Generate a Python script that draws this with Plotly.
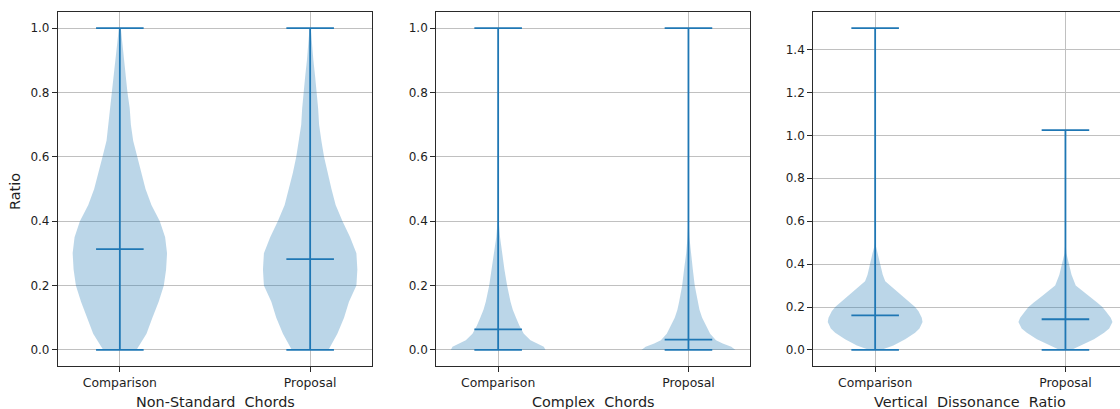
import plotly.graph_objects as go

# ---------------- data ----------------
panels = ["Non-Standard  Chords", "Complex  Chords", "Vertical  Dissonance  Ratio"]
categories = ["Comparison", "Proposal"]

# summary statistics: min, max, mean per violin
ns_min = [0.0, 0.0]
ns_max = [1.0, 1.0]
ns_mean = [0.313, 0.282]

cx_min = [0.0, 0.0]
cx_max = [1.0, 1.0]
cx_mean = [0.064, 0.032]

vd_min = [0.0, 0.0]
vd_max = [1.5, 1.024]
vd_mean = [0.161, 0.143]

# violin outlines: value levels and half-widths (x units)
ns_cmp_lvl = [0.0, 0.05, 0.1, 0.15, 0.2, 0.25, 0.3, 0.35, 0.4, 0.45, 0.5, 0.55, 0.6, 0.65, 0.7, 0.75, 0.8, 0.85, 0.9, 0.95, 1.0]
ns_cmp_hw = [0.087, 0.14, 0.171, 0.204, 0.231, 0.243, 0.248, 0.238, 0.21, 0.166, 0.135, 0.114, 0.091, 0.07, 0.058, 0.052, 0.04, 0.031, 0.023, 0.014, 0.005]
ns_pro_lvl = [0.0, 0.05, 0.1, 0.15, 0.2, 0.25, 0.3, 0.35, 0.4, 0.45, 0.5, 0.55, 0.6, 0.65, 0.7, 0.75, 0.8, 0.85, 0.9, 0.95, 1.0]
ns_pro_hw = [0.096, 0.143, 0.178, 0.204, 0.243, 0.248, 0.243, 0.21, 0.17, 0.134, 0.112, 0.091, 0.073, 0.059, 0.047, 0.042, 0.035, 0.026, 0.017, 0.009, 0.003]

cx_cmp_lvl = [0.0, 0.01, 0.02, 0.03, 0.05, 0.075, 0.1, 0.125, 0.15, 0.2, 0.25, 0.3, 0.35, 0.4, 0.5, 1.0]
cx_cmp_hw = [0.249, 0.24, 0.205, 0.17, 0.135, 0.112, 0.094, 0.077, 0.065, 0.047, 0.033, 0.021, 0.01, 0.003, 0.001, 0.0]
cx_pro_lvl = [0.0, 0.01, 0.02, 0.03, 0.05, 0.075, 0.1, 0.125, 0.15, 0.2, 0.25, 0.3, 0.35, 0.4, 1.0]
cx_pro_hw = [0.247, 0.225, 0.18, 0.145, 0.114, 0.093, 0.072, 0.058, 0.049, 0.033, 0.023, 0.012, 0.005, 0.001, 0.0]

vd_cmp_lvl = [0.0, 0.02, 0.05, 0.08, 0.1, 0.13, 0.15, 0.18, 0.2, 0.22, 0.25, 0.28, 0.3, 0.32, 0.35, 0.4, 0.45, 0.48, 0.5, 1.5]
vd_cmp_hw = [0.03, 0.096, 0.158, 0.21, 0.233, 0.249, 0.245, 0.228, 0.21, 0.184, 0.145, 0.105, 0.079, 0.053, 0.04, 0.026, 0.014, 0.005, 0.002, 0.0]
vd_pro_lvl = [0.0, 0.02, 0.05, 0.08, 0.1, 0.13, 0.15, 0.18, 0.2, 0.22, 0.25, 0.28, 0.3, 0.35, 0.4, 0.45, 0.5, 1.024]
vd_pro_hw = [0.03, 0.08, 0.15, 0.203, 0.23, 0.247, 0.238, 0.212, 0.194, 0.168, 0.124, 0.08, 0.054, 0.032, 0.018, 0.005, 0.001, 0.0]

ns_ticks = [0.0, 0.2, 0.4, 0.6, 0.8, 1.0]
cx_ticks = [0.0, 0.2, 0.4, 0.6, 0.8, 1.0]
vd_ticks = [0.0, 0.2, 0.4, 0.6, 0.8, 1.0, 1.2, 1.4]

# ---------------- styling ----------------
W, H = 1120, 409
BLUE = "#1f77b4"
FILL = "rgba(31,119,180,0.3)"
GRID = "#c0c0c0"
FRAME = "#2a2a2a"
TXT = "#1e1e1e"
FONT = "DejaVu Sans"
positions = [1, 2]
cap = 0.125

fig = go.Figure()

panel_data = [
    (ns_min, ns_max, ns_mean, [(ns_cmp_lvl, ns_cmp_hw), (ns_pro_lvl, ns_pro_hw)], ns_ticks, [-0.05, 1.05], [0.675, 2.325], (58, 372)),
    (cx_min, cx_max, cx_mean, [(cx_cmp_lvl, cx_cmp_hw), (cx_pro_lvl, cx_pro_hw)], cx_ticks, [-0.05, 1.05], [0.675, 2.325], (436.3, 750.3)),
    (vd_min, vd_max, vd_mean, [(vd_cmp_lvl, vd_cmp_hw), (vd_pro_lvl, vd_pro_hw)], vd_ticks, [-0.075, 1.575], [0.675, 2.2867], (813.3, 1120)),
]

y_top_px, y_bot_px = 12, 366
ydom = [(H - y_bot_px) / H, (H - y_top_px) / H]

for i, (mins, maxs, means, shapes, ticks, yr, xr, (xl, xrpx)) in enumerate(panel_data):
    k = "" if i == 0 else str(i + 1)
    xa, ya = "x" + k, "y" + k
    # bodies
    for p, (lvl, hw) in zip(positions, shapes):
        xs = [p + w for w in hw] + [p - w for w in reversed(hw)]
        ys = list(lvl) + list(reversed(lvl))
        fig.add_trace(go.Scatter(x=xs, y=ys, fill="toself", fillcolor=FILL, mode="lines",
                                 line=dict(width=0, color=FILL), hoverinfo="skip",
                                 showlegend=False, xaxis=xa, yaxis=ya))
    # lines: vertical, caps, mean
    lx, ly = [], []
    for p, mn, mx, me in zip(positions, mins, maxs, means):
        lx += [p, p, None]
        ly += [mn, mx, None]
        for v in (mn, mx, me):
            lx += [p - cap, p + cap, None]
            ly += [v, v, None]
    fig.add_trace(go.Scatter(x=lx, y=ly, mode="lines", line=dict(color=BLUE, width=1.8),
                             hoverinfo="skip", showlegend=False, xaxis=xa, yaxis=ya))

    xdom = [xl / W, xrpx / W]
    fig.layout["xaxis" + k] = dict(
        domain=xdom, range=xr, anchor=ya, tickmode="array", tickvals=positions, ticktext=categories,
        showgrid=True, gridcolor=GRID, gridwidth=1, zeroline=False,
        showline=True, linecolor=FRAME, linewidth=1.2, mirror=True,
        ticks="outside", ticklen=5, tickcolor=FRAME, tickwidth=1,
        tickfont=dict(family=FONT, size=12.4, color=TXT), automargin=False,
    )
    fig.layout["yaxis" + k] = dict(
        domain=ydom, range=yr, anchor=xa, tickmode="array", tickvals=ticks,
        ticktext=[f"{t:.1f}" for t in ticks],
        showgrid=True, gridcolor=GRID, gridwidth=1, zeroline=False,
        showline=True, linecolor=FRAME, linewidth=1.2, mirror=(i < 2),
        ticks="outside", ticklen=5, tickcolor=FRAME, tickwidth=1,
        tickfont=dict(family=FONT, size=12, color=TXT), automargin=False,
    )
    fig.add_annotation(text=panels[i], xref="paper", yref="paper",
                       x=(xl + (xl + 314)) / 2 / W, y=(H - 402) / H, xanchor="center", yanchor="middle",
                       showarrow=False, font=dict(family=FONT, size=14.4, color=TXT))

fig.add_annotation(text="Ratio", xref="paper", yref="paper", x=15 / W, y=(H - 192) / H,
                   xanchor="center", yanchor="middle", textangle=-90, showarrow=False,
                   font=dict(family=FONT, size=14.4, color=TXT))

fig.update_layout(width=W, height=H, margin=dict(l=0, r=0, t=0, b=0),
                  paper_bgcolor="white", plot_bgcolor="white", template="none", showlegend=False)

fig.write_html("out.html")
